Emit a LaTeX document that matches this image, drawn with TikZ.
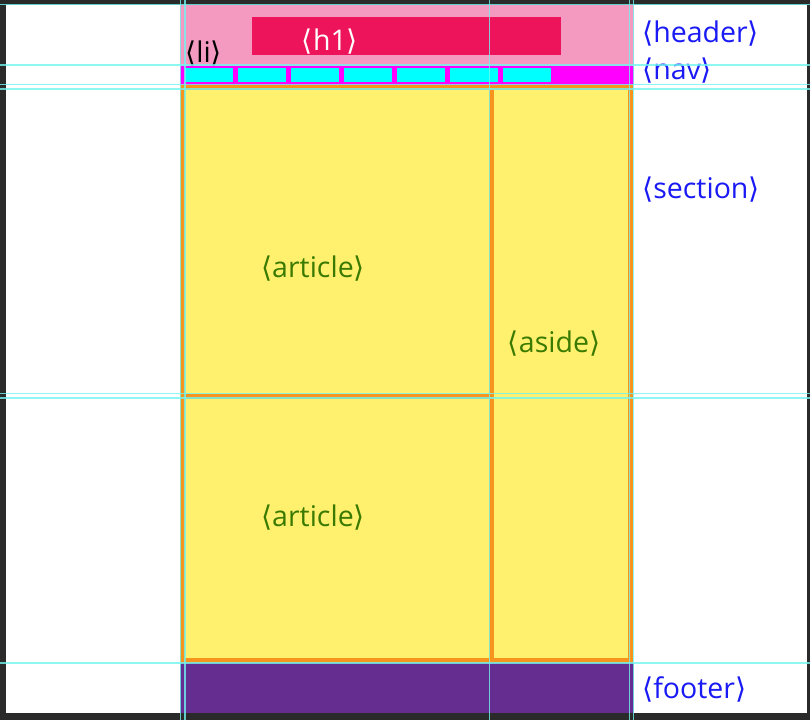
\documentclass[tikz,border=0pt]{standalone}
\usepackage{fontspec}
\setmainfont{Open Sans}
\newfontfamily\brk{DejaVu Sans}
\newcommand{\lb}{{\brk ⟨}}
\newcommand{\rb}{{\brk ⟩}}
\definecolor{frame}{HTML}{2A2A2A}
\definecolor{hdrpink}{HTML}{F49AC1}
\definecolor{hone}{HTML}{EE145B}
\definecolor{navmag}{HTML}{FF00FF}
\definecolor{licyan}{HTML}{00FFFF}
\definecolor{secyel}{HTML}{FFF16E}
\definecolor{secorg}{HTML}{F7941D}
\definecolor{footpur}{HTML}{662D91}
\definecolor{tagblue}{HTML}{1A1AF5}
\definecolor{taggreen}{HTML}{3A7A00}
\definecolor{guide}{HTML}{70F5F0}
\begin{document}
\begin{tikzpicture}[x=1pt,y=-1pt,
  tag/.style={font=\fontsize{28.5}{31}\selectfont, inner sep=0pt, anchor=base west},
  ctag/.style={font=\fontsize{28.5}{31}\selectfont, inner sep=0pt, anchor=base},
  guideline/.style={draw=guide, line width=1.1pt, opacity=0.8}]
\useasboundingbox (0,0) rectangle (810,720);
% frame and canvas
\fill[frame] (0,0) rectangle (810,720);
\fill[white] (6,4.5) rectangle (807,713);
% header
\fill[hdrpink] (180,4.5) rectangle (634,66);
\fill[hone] (252,17) rectangle (561,55);
% nav
\fill[navmag] (180,66) rectangle (634,85);
\foreach \i in {0,...,6} {
  \fill[licyan] ({185+53*\i},68) rectangle ({233+53*\i},82);
}
% section
\fill[secyel] (180,85) rectangle (633,663);
\draw[secorg, line width=5pt] (182.5,87.5) rectangle (630.5,660.5);
\draw[secorg, line width=5pt] (491,85) -- (491,663);
\draw[secorg, line width=5pt] (182,396) -- (491,396);
% footer
\fill[footpur] (180,663) rectangle (634,713);
% texts
\node[ctag, text=white] (h1) at (330,50) {\lb h1\rb};
\node[tag, text=black] (li) at (185,62) {\lb li\rb};
\node[tag, text=tagblue] (header) at (642,42) {\lb header\rb};
\node[tag, text=tagblue] (nav) at (642,79) {\lb nav\rb};
\node[tag, text=tagblue] (section) at (642,198) {\lb section\rb};
\node[tag, text=tagblue] (footer) at (642,698) {\lb footer\rb};
\node[ctag, text=taggreen] (art1) at (313,277) {\lb article\rb};
\node[ctag, text=taggreen] (art2) at (313,526) {\lb article\rb};
\node[ctag, text=taggreen] (aside) at (554,352) {\lb aside\rb};
% guides
\foreach \y in {4.5,65,84.5,89,393.5,398,663} {
  \draw[guideline] (0,\y) -- (810,\y);
}
\foreach \x in {180.5,185,489.5,629.5,633.5} {
  \draw[guideline] (\x,0) -- (\x,720);
}
\end{tikzpicture}
\end{document}
